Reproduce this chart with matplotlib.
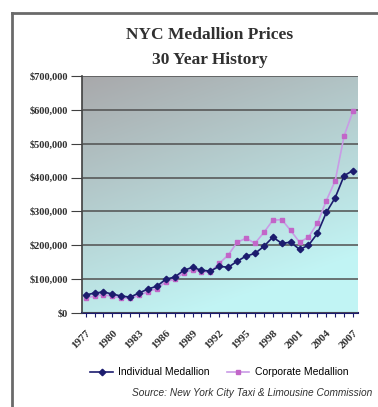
import numpy as np
import matplotlib.pyplot as plt
from matplotlib.lines import Line2D
from matplotlib.ticker import FuncFormatter, MultipleLocator

# Precios de medallones de taxi (dolares), un valor por año
anios = list(range(1977, 2008))
individual = [53000, 59000, 62000, 56000, 50000, 47000, 59000, 71000, 79000, 100000,
              106000, 126000, 135000, 126000, 124000, 138000, 135000, 153000, 168000, 176000,
              197000, 224000, 206000, 209000, 188000, 200000, 235000, 297000, 341000, 406000,
              421000]
corporativo = [44000, 50000, 54000, 49000, 45000, 43000, 52000, 63000, 72000, 92000,
               100000, 118000, 128000, 122000, 121000, 147000, 171000, 209000, 221000, 206000,
               238000, 274000, 276000, 244000, 209000, 224000, 265000, 332000, 391000, 524000,
               597000]
etiquetas = [str(a) for a in anios]

fig = plt.figure(figsize=(3.78, 4.07), dpi=100)
fig.patch.set_facecolor('white')
ax = fig.add_axes([0.217, 0.231, 0.730, 0.582])

# Fondo degradado: gris arriba a la izquierda, cian abajo
n = 200
gx, gy = np.meshgrid(np.linspace(0, 1, n), np.linspace(0, 1, n))
t = np.clip(0.35 * gx + 0.85 * gy, 0, 1)
gris = np.array([0.66, 0.66, 0.67])
cian = np.array([0.76, 0.96, 0.96])
fondo = gris[None, None, :] * (1 - t[..., None]) + cian[None, None, :] * t[..., None]
ax.imshow(fondo, extent=[0, 1, 0, 1], transform=ax.transAxes, aspect='auto', zorder=0)

x = np.arange(len(anios))
ax.plot(x, corporativo, color='#c99be6', lw=1.2, marker='s', ms=3,
        mfc='#c266c8', mec='#c266c8', zorder=3, label='Corporate Medallion')
ax.plot(x, individual, color='#1c1c6e', lw=1.2, marker='D', ms=3.3,
        mfc='#1c1c6e', mec='#1c1c6e', zorder=4, label='Individual Medallion')

ax.set_xlim(-0.4, 30.55)
ax.set_ylim(0, 700000)
ax.yaxis.set_major_locator(MultipleLocator(100000))
ax.yaxis.set_major_formatter(FuncFormatter(lambda v, p: '${:,.0f}'.format(v)))
ax.grid(axis='y', color='#505050', lw=1.1)
ax.set_axisbelow(False)
for s in ['top', 'right']:
    ax.spines[s].set_visible(False)
ax.spines['left'].set_color('#404040')
ax.spines['bottom'].set_color('#1c1c6e')
ax.spines['left'].set_linewidth(1.2)
ax.spines['bottom'].set_linewidth(1.5)

ax.set_xticks(x)
ax.set_xticklabels([e if i % 3 == 0 else '' for i, e in enumerate(etiquetas)],
                   rotation=45, ha='right', rotation_mode='anchor',
                   fontsize=8, fontweight='bold', color='#303030', family='Liberation Serif')
ax.tick_params(axis='x', length=3, color='#1c1c6e', pad=8)
ax.tick_params(axis='y', length=8, color='#404040', pad=2, labelsize=7.5, labelcolor='#303030')
for lab in ax.get_yticklabels():
    lab.set_family('Liberation Serif')
    lab.set_fontweight('bold')

fig.text(0.555, 0.913, 'NYC Medallion Prices', ha='center', va='center',
         fontsize=12.5, fontweight='bold', family='Liberation Serif', color='#303030')
fig.text(0.555, 0.852, '30 Year History', ha='center', va='center',
         fontsize=12.5, fontweight='bold', family='Liberation Serif', color='#303030')

h, l = ax.get_legend_handles_labels()
fig.legend(h[::-1], l[::-1], loc='center', bbox_to_anchor=(0.58, 0.085), ncol=2,
           frameon=False, handlelength=2.2, columnspacing=1.6, handletextpad=0.5,
           prop={'family': 'Liberation Sans', 'size': 7.5})
fig.text(0.985, 0.034, 'Source: New York City Taxi & Limousine Commission', ha='right',
         va='center', fontsize=7.3, style='italic', family='Liberation Sans', color='#303030')

# Marco exterior
fig.add_artist(Line2D([0.032, 0.032], [0.0, 0.968], color='#6a6a6a', lw=2))
fig.add_artist(Line2D([0.032, 1.0], [0.968, 0.968], color='#6a6a6a', lw=2))

fig.savefig('out.png', dpi=100)
